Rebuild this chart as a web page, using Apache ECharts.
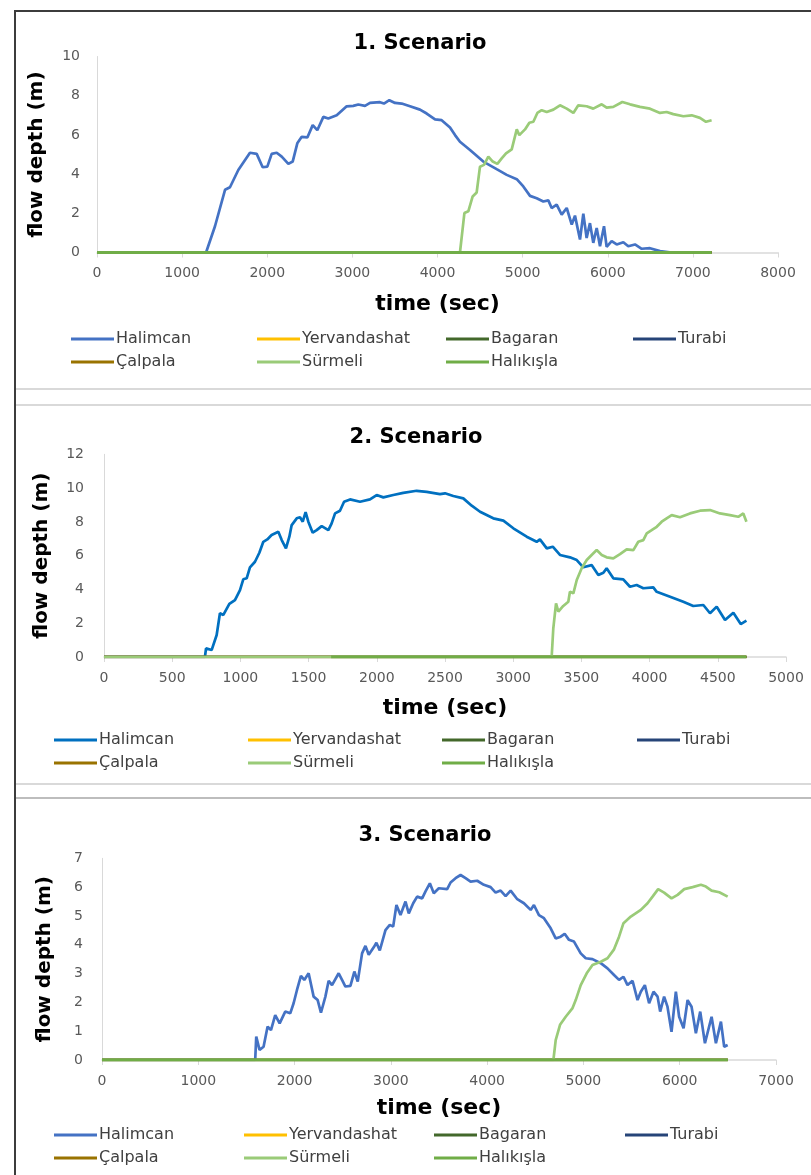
<!DOCTYPE html>
<html>
<head>
<meta charset="utf-8">
<title>Flow depth scenarios</title>
<script src="https://cdn.jsdelivr.net/npm/echarts@6/dist/echarts.min.js"></script>
<style>
  html, body { margin: 0; padding: 0; background: #ffffff; }
  body { width: 811px; height: 1175px; position: relative; overflow: hidden; }
  .chart { position: absolute; left: 0; width: 811px; }
  .rule { position: absolute; }
</style>
</head>
<body>
<div class="rule" style="left:14px;top:10px;width:797px;height:2px;background:#3c3c3c"></div>
<div class="rule" style="left:14px;top:10px;width:2px;height:1165px;background:#3c3c3c"></div>
<div class="rule" style="left:16px;top:388px;width:795px;height:2px;background:#d9d9d9"></div>
<div class="rule" style="left:16px;top:404px;width:795px;height:2px;background:#d9d9d9"></div>
<div class="rule" style="left:16px;top:783px;width:795px;height:2px;background:#d9d9d9"></div>
<div class="rule" style="left:16px;top:797px;width:795px;height:2px;background:#bdbdbd"></div>
<div id="c1" class="chart" style="top:0px;height:395px"></div>
<div id="c2" class="chart" style="top:395px;height:395px"></div>
<div id="c3" class="chart" style="top:790px;height:385px"></div>
<script>
// Station names, in legend order
const stations = ['Halimcan', 'Yervandashat', 'Bagaran', 'Turabi', 'Çalpala', 'Sürmeli', 'Halıkışla'];
const stationColors = ['#4472C4', '#FFC000', '#43682B', '#264478', '#997300', '#9ACB78', '#70AD47'];

// ---- Scenario 1: [time (s), flow depth (m)]
const s1Halimcan = [
  [0,0],[1281,0],[1386,1.34],[1504,3.2],[1562,3.33],[1660,4.21],[1797,5.09],[1876,5.03],
  [1946,4.35],[2001,4.38],[2052,5.03],[2111,5.09],[2170,4.89],[2248,4.52],[2299,4.64],
  [2353,5.57],[2405,5.9],[2471,5.87],[2534,6.5],[2588,6.24],[2659,6.92],[2717,6.84],
  [2816,7.0],[2933,7.46],[3011,7.48],[3070,7.55],[3148,7.48],[3207,7.63],[3324,7.67],
  [3371,7.6],[3434,7.77],[3501,7.63],[3579,7.6],[3677,7.46],[3794,7.29],[3873,7.09],
  [3971,6.79],[4049,6.75],[4147,6.38],[4206,5.99],[4264,5.65],[4382,5.23],[4538,4.64],
  [4695,4.25],[4813,3.96],[4931,3.74],[5008,3.37],[5087,2.89],[5165,2.77],[5243,2.6],
  [5302,2.66],[5341,2.27],[5400,2.44],[5459,1.93],[5518,2.27],[5577,1.42],[5615,1.88],
  [5674,0.66],[5713,1.98],[5752,0.74],[5791,1.5],[5830,0.49],[5870,1.25],[5909,0.32],
  [5956,1.34],[5987,0.29],[6046,0.58],[6105,0.41],[6183,0.52],[6241,0.32],[6320,0.41],
  [6399,0.19],[6496,0.22],[6614,0.07],[6750,0]
];
const s1Surmeli = [
  [0,0],[4264,0],[4316,2.01],[4362,2.1],[4413,2.86],[4460,3.06],[4499,4.38],[4546,4.47],
  [4597,4.89],[4649,4.64],[4703,4.52],[4754,4.8],[4805,5.06],[4872,5.26],[4931,6.28],
  [4961,5.99],[5028,6.28],[5079,6.62],[5126,6.67],[5173,7.12],[5224,7.26],[5283,7.17],
  [5361,7.29],[5439,7.51],[5518,7.34],[5596,7.12],[5654,7.51],[5752,7.46],[5830,7.34],
  [5929,7.56],[5987,7.39],[6065,7.43],[6171,7.68],[6262,7.56],[6379,7.43],[6496,7.34],
  [6614,7.12],[6692,7.17],[6770,7.06],[6888,6.95],[6986,7.0],[7083,6.87],[7154,6.67],
  [7220,6.75]
];
const s1Zero = [[0,0],[7220,0]];
const s1Halikisla = [[0,0],[7220,0]];

// ---- Scenario 2
const s2Halimcan = [
  [0,0],[740,0],[748,0.51],[789,0.41],[826,1.3],[850,2.59],[875,2.49],[919,3.14],[960,3.37],
  [997,3.96],[1021,4.6],[1046,4.66],[1070,5.31],[1107,5.64],[1139,6.17],[1168,6.82],
  [1197,6.96],[1229,7.22],[1278,7.41],[1303,6.92],[1334,6.43],[1359,7.12],[1376,7.81],
  [1413,8.21],[1437,8.27],[1457,8.01],[1478,8.58],[1498,8.01],[1530,7.36],[1559,7.51],
  [1596,7.75],[1645,7.51],[1669,7.91],[1694,8.5],[1730,8.66],[1760,9.19],[1804,9.33],
  [1877,9.19],[1950,9.33],[1999,9.59],[2048,9.45],[2121,9.59],[2194,9.72],[2292,9.84],
  [2366,9.78],[2463,9.64],[2500,9.69],[2561,9.53],[2634,9.39],[2696,8.96],[2757,8.6],
  [2854,8.21],[2928,8.07],[3001,7.62],[3099,7.12],[3172,6.82],[3196,6.96],[3246,6.43],
  [3290,6.53],[3343,6.04],[3416,5.9],[3466,5.74],[3514,5.31],[3575,5.44],[3624,4.85],
  [3661,4.99],[3685,5.25],[3734,4.66],[3807,4.6],[3856,4.16],[3905,4.26],[3954,4.07],
  [4027,4.12],[4052,3.86],[4150,3.57],[4247,3.27],[4320,3.02],[4394,3.08],[4443,2.59],
  [4492,2.98],[4553,2.19],[4614,2.62],[4668,1.95],[4710,2.15]
];
const s2Surmeli = [
  [0,0],[3282,0],[3294,1.7],[3314,3.18],[3331,2.68],[3367,3.02],[3404,3.27],[3416,3.86],
  [3441,3.77],[3466,4.56],[3502,5.25],[3539,5.74],[3575,6.04],[3612,6.33],[3649,6.04],
  [3685,5.9],[3734,5.84],[3783,6.09],[3832,6.37],[3881,6.33],[3917,6.82],[3954,6.92],
  [3979,7.32],[4015,7.51],[4052,7.71],[4089,8.01],[4125,8.21],[4162,8.4],[4223,8.27],
  [4296,8.5],[4370,8.66],[4443,8.7],[4516,8.5],[4589,8.4],[4650,8.3],[4687,8.5],[4710,8.01]
];
const s2Zero = [[0,0],[4710,0]];
const s2Halikisla = [[1665,0],[4710,0]];

// ---- Scenario 3
const s3Halimcan = [
  [0,0],[1591,0],[1602,0.81],[1636,0.35],[1678,0.46],[1720,1.16],[1755,1.04],[1799,1.56],
  [1845,1.27],[1903,1.68],[1955,1.62],[1990,1.97],[2025,2.43],[2066,2.92],[2101,2.78],
  [2146,3.01],[2198,2.2],[2240,2.08],[2274,1.64],[2320,2.2],[2354,2.75],[2389,2.6],
  [2458,3.01],[2493,2.78],[2528,2.55],[2580,2.57],[2621,3.07],[2656,2.72],[2701,3.7],
  [2736,3.96],[2770,3.65],[2822,3.91],[2850,4.07],[2885,3.8],[2944,4.51],[2989,4.69],
  [3024,4.63],[3058,5.38],[3100,5.03],[3152,5.5],[3186,5.09],[3232,5.44],[3273,5.67],
  [3325,5.61],[3360,5.85],[3405,6.13],[3446,5.79],[3498,5.96],[3585,5.93],[3620,6.16],
  [3672,6.31],[3724,6.42],[3776,6.31],[3828,6.19],[3897,6.22],[3966,6.08],[4036,6.0],
  [4088,5.81],[4140,5.88],[4192,5.69],[4244,5.88],[4313,5.58],[4382,5.44],[4452,5.21],
  [4486,5.38],[4538,5.03],[4590,4.92],[4660,4.57],[4712,4.22],[4764,4.28],[4805,4.38],
  [4850,4.17],[4902,4.11],[4972,3.7],[5024,3.53],[5094,3.5],[5180,3.36],[5250,3.18],
  [5318,2.95],[5370,2.78],[5416,2.89],[5458,2.6],[5510,2.75],[5562,2.08],[5596,2.37],
  [5638,2.6],[5682,1.97],[5728,2.37],[5770,2.2],[5797,1.68],[5838,2.2],[5873,1.85],
  [5915,0.98],[5960,2.37],[5994,1.5],[6040,1.1],[6082,2.08],[6123,1.85],[6168,0.93],
  [6213,1.68],[6262,0.58],[6331,1.5],[6376,0.58],[6428,1.33],[6462,0.46],[6498,0.52]
];
const s3Surmeli = [
  [0,0],[4688,0],[4712,0.69],[4757,1.22],[4816,1.5],[4885,1.79],[4920,2.08],[4972,2.6],
  [5034,3.01],[5094,3.3],[5180,3.41],[5250,3.53],[5318,3.84],[5370,4.28],[5416,4.75],
  [5492,4.98],[5596,5.21],[5666,5.44],[5718,5.67],[5776,5.93],[5838,5.81],[5915,5.61],
  [5978,5.73],[6047,5.93],[6134,6.0],[6220,6.08],[6272,6.02],[6331,5.88],[6411,5.82],
  [6498,5.67]
];
const s3Zero = [[0,0],[6500,0]];
const s3Halikisla = [[0,0],[6500,0]];

const FONT = 'DejaVu Sans';
const plainNumber = v => String(v);

function buildPanel(el, cfg) {
  const chart = echarts.init(el, null, { renderer: 'canvas' });
  const colors = stationColors.slice();
  colors[0] = cfg.halimcanColor;

  const seriesData = [cfg.halimcan, cfg.zero, cfg.zero, cfg.zero, cfg.zero, cfg.surmeli, cfg.halikisla];
  const series = stations.map((name, i) => ({
    name: name,
    type: 'line',
    data: seriesData[i],
    showSymbol: false,
    symbol: 'none',
    animation: false,
    color: colors[i],
    lineStyle: { width: i === 6 ? 3 : 2.7, color: colors[i] },
    z: 2 + i
  }));

  // legend laid out in four columns, two rows
  const columns = [[0, 4], [1, 5], [2, 6], [3]];
  const legends = columns.map((idx, c) => ({
    orient: 'vertical',
    left: cfg.legendCols[c],
    top: cfg.legendTop,
    itemGap: cfg.legendRowGap,
    itemWidth: 43,
    itemHeight: 3,
    icon: 'rect',
    padding: 0,
    selectedMode: false,
    data: idx.map(k => stations[k]),
    textStyle: { fontFamily: FONT, fontSize: 16, color: '#404040', lineHeight: 20, padding: [0, 0, 0, -3] }
  }));

  chart.setOption({
    backgroundColor: 'transparent',
    animation: false,
    color: colors,
    graphic: [{
      type: 'text',
      x: cfg.titleX,
      y: cfg.titleY,
      style: {
        text: cfg.title,
        fontFamily: FONT,
        fontWeight: 'bold',
        fontSize: 21,
        fill: '#000000',
        align: 'center',
        verticalAlign: 'middle'
      }
    }],
    legend: legends,
    grid: { left: cfg.grid.left, top: cfg.grid.top, width: cfg.grid.width, height: cfg.grid.height, containLabel: false },
    xAxis: {
      type: 'value',
      min: 0,
      max: cfg.xMax,
      interval: cfg.xStep,
      name: 'time (sec)',
      nameLocation: 'middle',
      nameGap: cfg.xNameGap,
      nameTextStyle: { fontFamily: FONT, fontWeight: 'bold', fontSize: 22, color: '#000000' },
      axisLine: { show: true, lineStyle: { color: '#d9d9d9', width: 1.5 } },
      axisTick: { show: true, length: 5, lineStyle: { color: '#d9d9d9' } },
      axisLabel: { fontFamily: FONT, fontSize: 14, color: '#595959', margin: 14, formatter: plainNumber },
      splitLine: { show: false }
    },
    yAxis: {
      type: 'value',
      min: 0,
      max: cfg.yMax,
      interval: cfg.yStep,
      name: 'flow depth (m)',
      nameLocation: 'middle',
      nameGap: cfg.yNameGap,
      nameRotate: 90,
      nameTextStyle: { fontFamily: FONT, fontWeight: 'bold', fontSize: 20, color: '#000000' },
      axisLine: { show: true, lineStyle: { color: '#d9d9d9', width: 1 } },
      axisTick: { show: false },
      axisLabel: { fontFamily: FONT, fontSize: 14, color: '#595959', margin: cfg.yLabelMargin, formatter: plainNumber },
      splitLine: { show: false }
    },
    series: series
  });
  return chart;
}

buildPanel(document.getElementById('c1'), {
  title: '1. Scenario', titleX: 420, titleY: 44,
  grid: { left: 97, top: 56.5, width: 681, height: 196 },
  xMax: 8000, xStep: 1000, yMax: 10, yStep: 2,
  xNameGap: 41, yNameGap: 50, yLabelMargin: 17,
  halimcanColor: '#4472C4',
  halimcan: s1Halimcan, surmeli: s1Surmeli, zero: s1Zero, halikisla: s1Halikisla,
  legendCols: [71, 257, 446, 633], legendTop: 329, legendRowGap: 3
});

buildPanel(document.getElementById('c2'), {
  title: '2. Scenario', titleX: 416, titleY: 43,
  grid: { left: 104, top: 59.3, width: 682, height: 202.7 },
  xMax: 5000, xStep: 500, yMax: 12, yStep: 2,
  xNameGap: 40, yNameGap: 52, yLabelMargin: 20,
  halimcanColor: '#0070C0',
  halimcan: s2Halimcan, surmeli: s2Surmeli, zero: s2Zero, halikisla: s2Halikisla,
  legendCols: [54, 248, 442, 637], legendTop: 335, legendRowGap: 3
});

buildPanel(document.getElementById('c3'), {
  title: '3. Scenario', titleX: 425, titleY: 46,
  grid: { left: 102, top: 68.3, width: 674, height: 201.7 },
  xMax: 7000, xStep: 1000, yMax: 7, yStep: 1,
  xNameGap: 37, yNameGap: 47, yLabelMargin: 19,
  halimcanColor: '#4472C4',
  halimcan: s3Halimcan, surmeli: s3Surmeli, zero: s3Zero, halikisla: s3Halikisla,
  legendCols: [54, 244, 434, 625], legendTop: 335, legendRowGap: 3
});
</script>
</body>
</html>
